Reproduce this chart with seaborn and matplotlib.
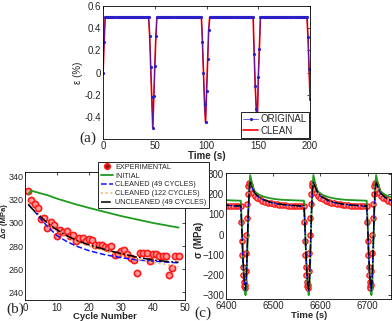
import numpy as np
import pandas as pd
import matplotlib
matplotlib.use("Agg")
import matplotlib.pyplot as plt
import seaborn as sns
from matplotlib.lines import Line2D

# ---------------- data ----------------
# (a) strain history, sampled every second
time_a = np.arange(0, 201)
strain_rise = [0.0, 0.28]
strain_plateau = 0.5
dip_starts = [45, 96, 146, 198]
dip_1 = [0.33, 0.05, -0.22, -0.50, -0.21, 0.06, 0.33]
dip_2 = [0.28, 0.00, -0.28, -0.45, -0.17, 0.12, 0.38]
dip_3 = [0.17, -0.12, -0.33, -0.45, -0.04, 0.21]
dip_4 = [0.32, 0.03, -0.24]

# (b) stress range vs cycle number
cycles_exp = np.arange(1, 49)
exp_range = [328, 320, 316, 313, 303, 304, 296, 301, 298, 289, 294, 292,
             293, 289, 290, 284, 287, 287, 284, 286, 285, 281, 281, 281,
             279, 278, 280, 272, 273, 276, 277, 273, 270, 268, 257, 274,
             274, 274, 267, 273, 273, 271, 271, 271, 255, 261, 271, 271]
cycles_model = [1, 2, 3, 5, 7, 10, 13, 16, 20, 25, 30, 35, 40, 45, 48]
initial_range = [325, 328, 327, 325.5, 324, 321, 318.5, 316, 313, 309.5, 306, 303, 300, 297.5, 296]
cleaned49_range = [316, 313, 310, 303, 297, 289, 284, 280, 276, 272.5, 270, 268, 267, 266, 265.5]
cleaned122_range = [318, 314, 311, 305, 299, 293, 288, 284, 280, 276, 272, 269, 266, 263.5, 262.5]
uncleaned49_range = [316, 313, 310, 305, 300, 294, 289, 285, 281, 277, 273.5, 270.5, 268, 266.5, 266]

# (c) stress history: one cycle profile (time after drop start), repeated per cycle
cycle_starts = [6296, 6431, 6565, 6698]
exp_phase = [0, 1, 2, 3, 4, 5, 6, 7, 8, 9, 10, 11, 12, 13, 14, 15, 16, 17, 19, 22,
             26, 30, 35, 40, 46, 52, 58, 64, 70, 76, 82, 88, 94, 100, 106, 112, 118, 124, 130]
exp_stress = [140, 60, -30, -100, -160, -200, -235, -255, -265, -250, -180, -90, 0, 80,
              150, 200, 240, 258, 245, 225, 205, 192, 182, 175, 168, 163, 158, 155, 152,
              150, 148, 146, 145, 144, 143, 142, 141, 140, 140]
model_phase = [0, 2, 4, 6, 8, 10, 12, 14, 16, 18, 20, 25, 30, 40, 50, 60, 70, 80, 90, 100, 110, 120, 132]
initial_stress = [168, 60, -80, -190, -260, -300, -240, -70, 110, 240, 295, 240, 212, 196, 187,
                  181, 177, 174, 172, 171, 170, 169, 168]
cleaned49_stress = [140, 40, -90, -190, -250, -278, -205, -45, 115, 220, 258, 226, 201, 181, 169,
                    161, 155, 151, 148, 146, 144, 142, 140]
cleaned122_stress = [142, 42, -88, -188, -248, -275, -202, -42, 118, 222, 258, 228, 203, 183, 171,
                     162, 156, 152, 149, 147, 145, 143, 142]
uncleaned49_stress = [145, 45, -85, -185, -245, -272, -198, -38, 122, 225, 260, 229, 204, 184, 172,
                      163, 157, 152, 149, 147, 145, 143, 142]

# ---------------- style ----------------
sns.set_style("white")
plt.rcParams["font.family"] = ["Liberation Sans", "DejaVu Sans"]
plt.rcParams.update({
    "xtick.direction": "in", "ytick.direction": "in",
    "xtick.top": True, "ytick.right": True,
    "xtick.major.size": 2.5, "ytick.major.size": 2.5,
    "xtick.major.width": 0.6, "ytick.major.width": 0.6,
    "xtick.labelsize": 7, "ytick.labelsize": 7,
    "xtick.major.pad": 1.5, "ytick.major.pad": 1.5,
    "axes.linewidth": 0.6, "axes.edgecolor": "black",
})

GREEN = "#1f9a1f"
BLUE = "#1010ff"
ORANGE = "#f2b56a"
RED = "#ff1a1a"

fig = plt.figure(figsize=(3.92, 3.21), dpi=100)
ax_a = fig.add_axes([0.263, 0.567, 0.528, 0.414])
ax_b = fig.add_axes([0.064, 0.064, 0.408, 0.400])
ax_c = fig.add_axes([0.577, 0.068, 0.421, 0.393])

# ---------------- (a) ----------------
strain = np.full(len(time_a), strain_plateau)
strain[:len(strain_rise)] = strain_rise
for start, dip in zip(dip_starts, [dip_1, dip_2, dip_3, dip_4]):
    strain[start:start + len(dip)] = dip[:len(time_a) - start]
df_a = pd.DataFrame({"t": time_a, "strain": strain})

sns.lineplot(data=df_a, x="t", y="strain", ax=ax_a, color="red", lw=1.2,
             label="CLEAN", estimator=None, sort=False)
sns.lineplot(data=df_a, x="t", y="strain", ax=ax_a, color="#2a1fc8", lw=0.5,
             marker="o", markersize=2.3, markeredgewidth=0, label="ORIGINAL",
             estimator=None, sort=False)
ax_a.set_xlim(0, 200)
ax_a.set_ylim(-0.6, 0.6)
ax_a.set_xticks([0, 50, 100, 150, 200])
ax_a.set_yticks([-0.4, -0.2, 0, 0.2, 0.4, 0.6])
ax_a.set_yticklabels(["-0.4", "-0.2", "0", "0.2", "0.4", "0.6"])
ax_a.set_xlabel("Time (s)", fontsize=7, fontweight="bold", labelpad=0)
ax_a.set_ylabel("ε (%)", fontsize=7)
ax_a.yaxis.set_label_coords(-0.095, 0.5)
h, l = ax_a.get_legend_handles_labels()
ax_a.legend(h[::-1], l[::-1], loc="lower right", fontsize=7, frameon=True,
            fancybox=False, edgecolor="black", framealpha=1, borderpad=0.2,
            labelspacing=0.15, handlelength=1.6, handletextpad=0.2,
            borderaxespad=0.15).get_frame().set_linewidth(0.6)

# ---------------- (b) ----------------
df_b_exp = pd.DataFrame({"cycle": cycles_exp, "range": exp_range})
df_b_mod = pd.DataFrame({"cycle": cycles_model, "initial": initial_range,
                         "c49": cleaned49_range, "c122": cleaned122_range,
                         "u49": uncleaned49_range})
sns.scatterplot(data=df_b_exp, x="cycle", y="range", ax=ax_b, marker="o", s=20,
                facecolor="#ff9a9a", edgecolor=RED, linewidth=1.2, zorder=2)
sns.lineplot(data=df_b_mod, x="cycle", y="initial", ax=ax_b, color=GREEN, lw=1.3)
sns.lineplot(data=df_b_mod, x="cycle", y="c49", ax=ax_b, color=BLUE, lw=1.1, linestyle="--")
sns.lineplot(data=df_b_mod, x="cycle", y="c122", ax=ax_b, color=ORANGE, lw=1.3, linestyle=":")
sns.lineplot(data=df_b_mod, x="cycle", y="u49", ax=ax_b, color="black", lw=1.1, linestyle="-.")
ax_b.set_xlim(0, 50)
ax_b.set_ylim(233, 344)
ax_b.set_xticks([0, 10, 20, 30, 40, 50])
ax_b.set_yticks([240, 260, 280, 300, 320, 340])
ax_b.tick_params(axis="y", labelsize=6.5, pad=1)
ax_b.set_xlabel("Cycle Number", fontsize=6.8, fontweight="bold", labelpad=-0.3)
ax_b.set_ylabel("Δσ (MPa)", fontsize=5.5, fontweight="bold")
ax_b.yaxis.set_label_coords(-0.104, 0.62)

# ---------------- (c) ----------------
def tile(phase, values):
    t = np.concatenate([np.asarray(phase) + s for s in cycle_starts])
    v = np.tile(values, len(cycle_starts))
    return t, v

t_e, v_e = tile(exp_phase, exp_stress)
df_c_exp = pd.DataFrame({"t": t_e, "stress": v_e})
t_m, _ = tile(model_phase, initial_stress)
df_c_mod = pd.DataFrame({"t": t_m,
                         "initial": tile(model_phase, initial_stress)[1],
                         "c49": tile(model_phase, cleaned49_stress)[1],
                         "c122": tile(model_phase, cleaned122_stress)[1],
                         "u49": tile(model_phase, uncleaned49_stress)[1]})
sns.scatterplot(data=df_c_exp, x="t", y="stress", ax=ax_c, marker="o", s=14,
                facecolor="#ff9a9a", edgecolor=RED, linewidth=1.0, zorder=2)
for col, c, ls, lw in [("initial", GREEN, "-", 1.3), ("c122", ORANGE, ":", 1.2),
                       ("c49", BLUE, "--", 1.0), ("u49", "black", "-.", 1.0)]:
    sns.lineplot(data=df_c_mod, x="t", y=col, ax=ax_c, color=c, lw=lw, linestyle=ls,
                 estimator=None, sort=False)
ax_c.set_xlim(6400, 6750)
ax_c.set_ylim(-320, 305)
ax_c.set_xticks([6400, 6500, 6600, 6700])
ax_c.set_yticks([-300, -200, -100, 0, 100, 200, 300])
ax_c.set_xlabel("Time (s)", fontsize=6.8, fontweight="bold", labelpad=-0.3)
ax_c.set_ylabel("σ (MPa)", fontsize=7, fontweight="bold")
ax_c.yaxis.set_label_coords(-0.135, 0.47)

# shared legend for (b) and (c)
handles = [
    Line2D([], [], ls="none", marker="o", ms=4, mfc="#a01010", mec=RED, mew=1.2),
    Line2D([], [], color=GREEN, lw=1.3),
    Line2D([], [], color=BLUE, lw=1.1, ls="--"),
    Line2D([], [], color=ORANGE, lw=1.3, ls=":"),
    Line2D([], [], color="black", lw=1.1, ls="-."),
]
labels = ["EXPERIMENTAL", "INITIAL", "CLEANED (49 CYCLES)",
          "CLEANED (122 CYCLES)", "UNCLEANED (49 CYCLES)"]
leg = fig.legend(handles, labels, loc="upper left", bbox_to_anchor=(0.242, 0.508),
                 fontsize=5.2, frameon=True, fancybox=False, edgecolor="black",
                 framealpha=1, borderpad=0.3, labelspacing=0.25, handlelength=1.7,
                 handletextpad=0.3)
leg.get_frame().set_linewidth(0.6)

for ax in (ax_a, ax_b, ax_c):
    ax.tick_params(which="both", top=True, right=True, direction="in")

fig.text(0.225, 0.57, "(a)", fontsize=11, family="Liberation Serif", ha="center", va="center")
fig.text(0.038, 0.037, "(b)", fontsize=11, family="Liberation Serif", ha="center", va="center")
fig.text(0.518, 0.025, "(c)", fontsize=11, family="Liberation Serif", ha="center", va="center")

fig.savefig("out.png", dpi=100)
